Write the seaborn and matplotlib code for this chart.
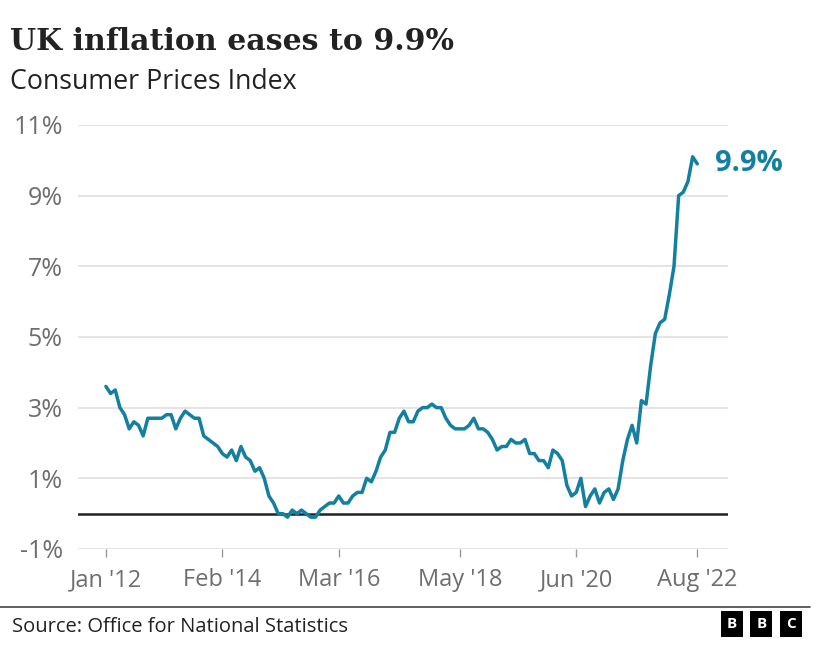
import numpy as np
import pandas as pd
import seaborn as sns
import matplotlib.pyplot as plt
from matplotlib.lines import Line2D

# UK CPI annual rate, monthly, Jan 2012 - Aug 2022
cpi = [3.6, 3.4, 3.5, 3.0, 2.8, 2.4, 2.6, 2.5, 2.2, 2.7, 2.7, 2.7,
       2.7, 2.8, 2.8, 2.4, 2.7, 2.9, 2.8, 2.7, 2.7, 2.2, 2.1, 2.0,
       1.9, 1.7, 1.6, 1.8, 1.5, 1.9, 1.6, 1.5, 1.2, 1.3, 1.0, 0.5,
       0.3, 0.0, 0.0, -0.1, 0.1, 0.0, 0.1, 0.0, -0.1, -0.1, 0.1, 0.2,
       0.3, 0.3, 0.5, 0.3, 0.3, 0.5, 0.6, 0.6, 1.0, 0.9, 1.2, 1.6,
       1.8, 2.3, 2.3, 2.7, 2.9, 2.6, 2.6, 2.9, 3.0, 3.0, 3.1, 3.0,
       3.0, 2.7, 2.5, 2.4, 2.4, 2.4, 2.5, 2.7, 2.4, 2.4, 2.3, 2.1,
       1.8, 1.9, 1.9, 2.1, 2.0, 2.0, 2.1, 1.7, 1.7, 1.5, 1.5, 1.3,
       1.8, 1.7, 1.5, 0.8, 0.5, 0.6, 1.0, 0.2, 0.5, 0.7, 0.3, 0.6,
       0.7, 0.4, 0.7, 1.5, 2.1, 2.5, 2.0, 3.2, 3.1, 4.2, 5.1, 5.4,
       5.5, 6.2, 7.0, 9.0, 9.1, 9.4, 10.1, 9.9]
month = list(range(len(cpi)))

xtick_pos = [0, 25, 50, 76, 101, 127]
xtick_labels = ["Jan '12", "Feb '14", "Mar '16", "May '18", "Jun '20", "Aug '22"]
ytick_pos = [-1, 1, 3, 5, 7, 9, 11]
ytick_labels = ["-1%", "1%", "3%", "5%", "7%", "9%", "11%"]

teal = "#1380a1"
grey = "#6e6e6e"

df = pd.DataFrame({"month": month, "cpi": cpi})

sns.set_theme(style="white")
plt.rcParams['font.family'] = ['Open Sans', 'DejaVu Sans']

fig = plt.figure(figsize=(8.27, 6.63), dpi=100)
ax = fig.add_axes([0.0943, 0.172, 0.786, 0.6395])

ax.set_xlim(-6.0, 133.6)
ax.set_ylim(-1, 11)
ax.set_yticks(ytick_pos)
ax.set_yticklabels(ytick_labels)
ax.grid(axis='y', color='#dcdcdc', linewidth=1.1)
ax.set_axisbelow(True)
ax.axhline(0, color='#222222', linewidth=1.8, zorder=2)

sns.lineplot(data=df, x="month", y="cpi", ax=ax, color=teal,
             linewidth=2.5, zorder=3)

ax.set_xticks(xtick_pos)
ax.set_xticklabels(xtick_labels)
ax.tick_params(axis='x', length=6, width=1, color='#999999', pad=8,
               labelsize=17, labelcolor=grey, bottom=True)
ax.tick_params(axis='y', length=0, pad=11, labelsize=18, labelcolor=grey)
ax.set_xlabel("")
ax.set_ylabel("")
for s in ax.spines.values():
    s.set_visible(False)

ax.annotate("9.9%", xy=(month[-1], cpi[-1]), xytext=(13, 0),
            textcoords='offset points', va='center', ha='left',
            color=teal, fontsize=21, fontweight='bold')

fig.text(0.012, 0.925, "UK inflation eases to 9.9%", fontsize=21.6,
         fontweight='bold', color='#222222',
         family=['DejaVu Serif'])
fig.text(0.012, 0.866, "Consumer Prices Index", fontsize=19.3,
         color='#222222')

fig.add_artist(Line2D([0, 0.98], [0.085, 0.085], color='#444444',
                      linewidth=1.2, transform=fig.transFigure))
fig.text(0.014, 0.047, "Source: Office for National Statistics",
         fontsize=14.5, color='#222222')
for i, letter in enumerate("BBC"):
    fig.text(0.885 + i * 0.0355, 0.059, letter, fontsize=11,
             fontweight='bold', color='white', ha='center', va='center',
             bbox=dict(boxstyle='square,pad=0.4', fc='black', ec='none'))

fig.savefig("out.png", dpi=100)
